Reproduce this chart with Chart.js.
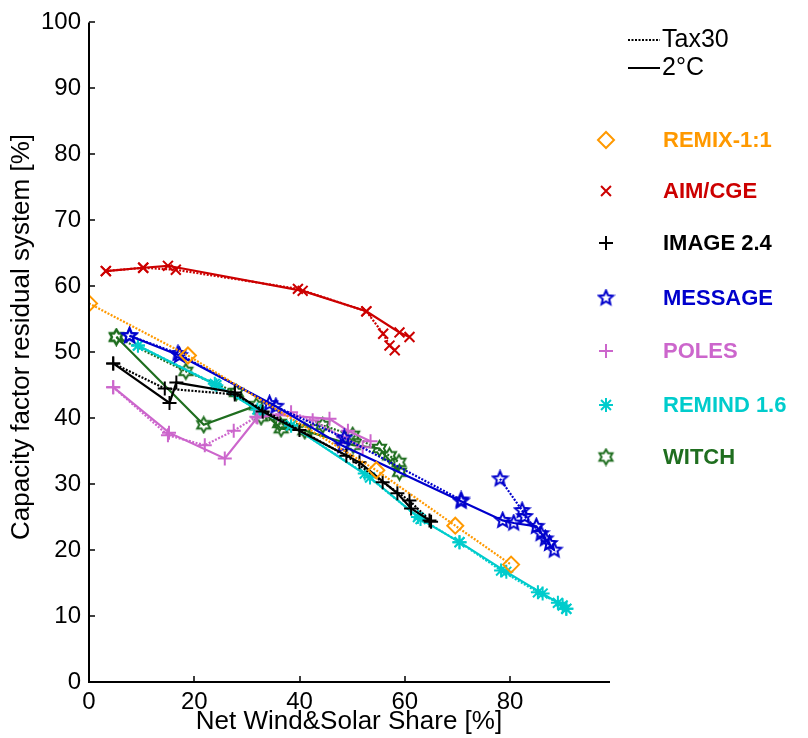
<!DOCTYPE html>
<html>
<head>
<meta charset="utf-8">
<script src="https://cdn.jsdelivr.net/npm/chart.js@4"></script>
<style>
  html, body { margin: 0; padding: 0; background: #fff; }
  #wrap { width: 808px; height: 738px; }
</style>
</head>
<body>
<div id="wrap"><canvas id="chart" width="808" height="738"></canvas></div>
<script>
// valores: [x, y] -> share eolica+solar, factor de capacidad
const xTicks = [0, 20, 40, 60, 80];
const yTicks = [0, 10, 20, 30, 40, 50, 60, 70, 80, 90, 100];

const remixTax30 = [[0, 57.4], [18.8, 49.5], [54.6, 32.1], [69.6, 23.7], [80.2, 17.8]];

const aimTax30 = [[3.2, 62.3], [10.3, 62.8], [16.5, 62.5], [39.7, 59.6], [52.7, 56.2], [55.9, 52.8], [57.1, 51.0], [58.1, 50.3]];
const aim2C = [[3.2, 62.3], [10.3, 62.8], [15, 63.1], [40.6, 59.3], [52.7, 56.2], [59, 53.0], [60.9, 52.3]];

const imageTax30 = [[4.6, 48.3], [14.4, 44.5], [27.7, 43.6], [40, 38.2], [48.9, 34.3], [55.8, 30.3], [60.9, 27.5], [65, 24.3]];
const image2C = [[4.6, 48.3], [15.3, 42.3], [16.6, 45.4], [27.7, 43.9], [33, 41], [51.4, 33.3], [58.6, 28.6], [61.2, 26.3], [64.7, 24.5]];

const messageTax30 = [[7.7, 52.5], [16.9, 49.8], [34.3, 42.2], [48.5, 37.0], [70.7, 27.6], [null, null], [78.1, 30.8], [82.3, 26.0], [82.8, 25.1], [85.9, 22.5], [87.5, 21.0]];
const message2C = [[7.7, 52.5], [17.2, 49.5], [35.5, 41.8], [48.2, 35.8], [70.7, 27.4], [78.6, 24.5], [80.7, 24.1], [85, 23.6], [86.7, 21.7], [88.4, 20.0]];

const polesTax30 = [[4.6, 44.7], [15, 37.4], [22, 35.9], [27.5, 38.1], [31.8, 40.2], [38.4, 40.9], [42.5, 39.7], [48.3, 37.1], [52, 35.6]];
const poles2C = [[4.6, 44.7], [15.2, 37.8], [25.8, 33.9], [32, 40.1], [36, 40.5], [45.7, 39.9], [49.2, 38.1], [53.5, 36.5]];

const remindTax30 = [[9.3, 51.0], [23.9, 45.2], [32, 41.3], [38.4, 38.9], [52.4, 31.6], [62.5, 25.0], [70.4, 21.2], [78.3, 16.9], [85.3, 13.6], [89.1, 12.0], [90.7, 11.1]];
const remind2C = [[9.3, 51.0], [24.2, 45.0], [32.5, 41], [38.4, 38.9], [53.4, 31.0], [63, 24.7], [70.4, 21.2], [79.3, 16.7], [86.2, 13.4], [90, 11.6], [90.7, 11.1]];

const witchTax30 = [[5.2, 52.3], [18.4, 47.1], [28, 43.9], [32.7, 40.2], [36.2, 39.2], [44.4, 38.9], [50.1, 37.4], [57.1, 34.3], [58.9, 33.3]];
const witch2C = [[5.2, 52.3], [21.8, 39.0], [31.8, 41.9], [36.5, 38.4], [41, 38.1], [50.2, 35.9], [55.2, 35.4], [59, 31.8]];

const ORANGE = "#FF9900", RED = "#CC0000", BLACK = "#000000", BLUE = "#0000CC",
      PINK = "#CC66CC", CYAN = "#00CCCC", GREEN = "#1F6E1F";

// marcadores propios (estrella de 5 y de 6 puntas)
function starCanvas(n, color, rOut, rIn) {
  const c = document.createElement("canvas");
  const s = Math.ceil(rOut * 2 + 4);
  c.width = s; c.height = s;
  const g = c.getContext("2d");
  g.strokeStyle = color;
  g.lineWidth = 2;
  g.lineJoin = "miter";
  g.beginPath();
  for (let i = 0; i < n * 2; i++) {
    const r = i % 2 === 0 ? rOut : rIn;
    const a = -Math.PI / 2 + i * Math.PI / n;
    const px = s / 2 + r * Math.cos(a), py = s / 2 + r * Math.sin(a);
    if (i === 0) g.moveTo(px, py); else g.lineTo(px, py);
  }
  g.closePath();
  g.stroke();
  return c;
}
const pentaBlue = starCanvas(5, BLUE, 7.5, 3.4);
const hexaGreen = starCanvas(6, GREEN, 7.5, 4.4);

const toXY = arr => arr.map(p => ({ x: p[0], y: p[1] }));

function series(label, arr, color, style, radius, dotted) {
  return {
    label,
    data: toXY(arr),
    showLine: true,
    spanGaps: false,
    borderColor: color,
    borderWidth: 2.2,
    borderDash: dotted ? [2, 1.5] : [],
    pointStyle: style,
    pointRadius: radius,
    pointHoverRadius: radius,
    pointBorderColor: color,
    pointBackgroundColor: "rgba(0,0,0,0)",
    pointBorderWidth: 2,
    fill: false
  };
}

const datasets = [
  series("REMIX-1:1 Tax30", remixTax30, ORANGE, "rectRot", 8, true),
  series("AIM/CGE Tax30", aimTax30, RED, "crossRot", 7, true),
  series("AIM/CGE 2°C", aim2C, RED, "crossRot", 7, false),
  series("IMAGE 2.4 Tax30", imageTax30, BLACK, "cross", 7, true),
  series("IMAGE 2.4 2°C", image2C, BLACK, "cross", 7, false),
  series("MESSAGE Tax30", messageTax30, BLUE, pentaBlue, 8, true),
  series("MESSAGE 2°C", message2C, BLUE, pentaBlue, 8, false),
  series("POLES Tax30", polesTax30, PINK, "cross", 7, true),
  series("POLES 2°C", poles2C, PINK, "cross", 7, false),
  series("REMIND 1.6 Tax30", remindTax30, CYAN, "star", 7, true),
  series("REMIND 1.6 2°C", remind2C, CYAN, "star", 7, false),
  series("WITCH Tax30", witchTax30, GREEN, hexaGreen, 8, true),
  series("WITCH 2°C", witch2C, GREEN, hexaGreen, 8, false)
];

const legendModels = [
  { text: "REMIX-1:1", color: ORANGE, style: "rectRot", r: 8 },
  { text: "AIM/CGE", color: RED, style: "crossRot", r: 7 },
  { text: "IMAGE 2.4", color: BLACK, style: "cross", r: 7 },
  { text: "MESSAGE", color: BLUE, style: pentaBlue, r: 8 },
  { text: "POLES", color: PINK, style: "cross", r: 7 },
  { text: "REMIND 1.6", color: CYAN, style: "star", r: 7 },
  { text: "WITCH", color: GREEN, style: hexaGreen, r: 8 }
];

const FONT = "'Liberation Sans', Arial, sans-serif";

// ejes, marcas hacia dentro, titulos y leyenda dibujados a mano
const decor = {
  id: "decor",
  afterDraw(chart) {
    const { ctx, chartArea: a, scales: { x, y } } = chart;
    ctx.save();
    ctx.strokeStyle = "#000";
    ctx.lineWidth = 2;
    ctx.beginPath();
    ctx.moveTo(a.left, a.top);
    ctx.lineTo(a.left, a.bottom);
    ctx.lineTo(a.right, a.bottom);
    ctx.stroke();
    ctx.lineWidth = 1.5;
    ctx.beginPath();
    yTicks.forEach(v => {
      const py = Math.round(y.getPixelForValue(v));
      ctx.moveTo(a.left, py); ctx.lineTo(a.left + 6, py);
    });
    xTicks.forEach(v => {
      const px = Math.round(x.getPixelForValue(v));
      ctx.moveTo(px, a.bottom); ctx.lineTo(px, a.bottom - 6);
    });
    ctx.stroke();

    ctx.fillStyle = "#000";
    ctx.font = "26px " + FONT;
    ctx.textAlign = "center";
    ctx.textBaseline = "middle";
    ctx.fillText("Net Wind&Solar Share [%]", 349, 722);
    ctx.save();
    ctx.translate(22, 337);
    ctx.rotate(-Math.PI / 2);
    ctx.fillText("Capacity factor residual system [%]", 0, 0);
    ctx.restore();

    // leyenda de escenarios
    ctx.textAlign = "left";
    ctx.font = "25px " + FONT;
    ctx.lineWidth = 2;
    ctx.setLineDash([2, 1.5]);
    ctx.beginPath(); ctx.moveTo(628, 40); ctx.lineTo(660, 40); ctx.stroke();
    ctx.setLineDash([]);
    ctx.beginPath(); ctx.moveTo(628, 68); ctx.lineTo(660, 68); ctx.stroke();
    ctx.fillText("Tax30", 662, 40);
    ctx.fillText("2°C", 662, 68);

    // leyenda de modelos
    const ys = [140, 191, 243, 298, 351, 405, 457];
    ctx.font = "bold 22px " + FONT;
    legendModels.forEach((m, i) => {
      ctx.strokeStyle = m.color;
      ctx.fillStyle = "rgba(0,0,0,0)";
      ctx.lineWidth = 2;
      Chart.helpers.drawPoint(ctx, { pointStyle: m.style, radius: m.r, rotation: 0, borderWidth: 2 }, 606, ys[i]);
      ctx.fillStyle = m.color;
      ctx.fillText(m.text, 663, ys[i] + 1);
    });
    ctx.restore();
  }
};

new Chart(document.getElementById("chart"), {
  type: "scatter",
  data: { datasets },
  options: {
    responsive: false,
    animation: false,
    layout: { padding: { left: 0, right: 198, top: 22, bottom: 0 } },
    plugins: {
      legend: { display: false },
      tooltip: { enabled: false }
    },
    scales: {
      x: {
        type: "linear",
        min: 0,
        max: 99,
        afterFit: s => { s.height = 56; },
        grid: { display: false, drawTicks: false },
        border: { display: false },
        ticks: {
          stepSize: 20,
          includeBounds: false,
          padding: 6,
          color: "#000",
          font: { size: 24, family: FONT },
          maxRotation: 0,
          callback: v => xTicks.includes(v) ? String(v) : null
        }
      },
      y: {
        type: "linear",
        min: 0,
        max: 100,
        afterFit: s => { s.width = 89; },
        grid: { display: false, drawTicks: false },
        border: { display: false },
        ticks: {
          stepSize: 10,
          padding: 8,
          color: "#000",
          font: { size: 24, family: FONT },
          callback: v => yTicks.includes(v) ? String(v) : null
        }
      }
    }
  },
  plugins: [decor]
});
</script>
</body>
</html>
